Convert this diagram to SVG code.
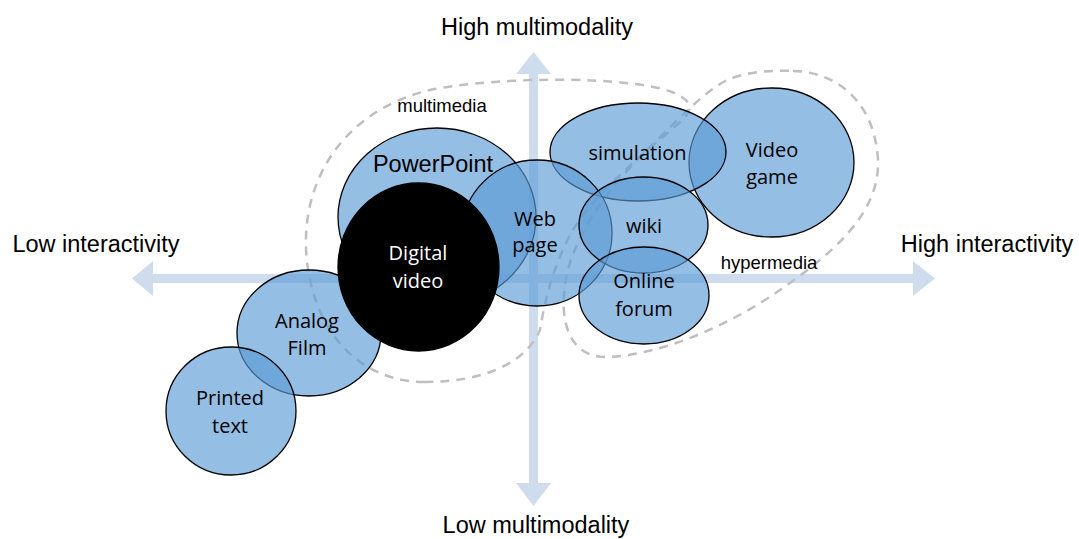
<svg xmlns="http://www.w3.org/2000/svg" width="1079" height="539" viewBox="0 0 1079 539">
<style>
.axis{fill:#cfdcee}
.ax-label{font-family:"Liberation Sans",Arial,sans-serif;font-size:23.5px;fill:#000;text-anchor:middle}
.zone{fill:none;stroke:#bfbfbf;stroke-width:2.5;stroke-dasharray:9 7}
.zone-label{font-family:"Liberation Sans",Arial,sans-serif;font-size:18.5px;fill:#000;text-anchor:middle}
.node{fill:#5b9bd5;fill-opacity:0.65;stroke:#000;stroke-width:1.3}
.dark{fill:#000;stroke:#000;stroke-width:1.3}
.lbl{font-family:"Open Sans","Noto Sans",sans-serif;font-size:20px;fill:#000;text-anchor:middle}
.lbl-w{font-family:"Open Sans","Noto Sans",sans-serif;font-size:20px;fill:#fff;text-anchor:middle}
.lbl-a{font-family:"Liberation Sans",Arial,sans-serif;font-size:23.5px;fill:#000;text-anchor:middle}
</style>
<rect width="1079" height="539" fill="#fff"/>
<g id="connectors">
  <g id="axes">
    <rect class="axis" x="529" y="73" width="9" height="411"/>
    <polygon class="axis" points="533.5,52 551,74 516,74"/>
    <polygon class="axis" points="533.5,506 551,483 516,483"/>
    <rect class="axis" x="152" y="274" width="762" height="9"/>
    <polygon class="axis" points="132,278.5 153,261 153,296"/>
    <polygon class="axis" points="935,278.5 913,261 913,296"/>
  </g>
  <path id="multimedia-zone" class="zone" d="M 425,382 C 362,382 316,336 307,262 C 298,180 345,110 430,90 C 500,76 630,76 672,92 C 697,102 692,113 678,124 C 636,160 592,196 570,235 C 552,270 545,300 540,330 C 525,365 480,382 425,382 Z"/>
  <path id="hypermedia-zone" class="zone" d="M 793,71 C 840,72 875,105 878,160 C 880,215 830,255 780,290 C 730,325 660,356 605,357 C 568,356 560,320 565,285 C 570,245 600,195 650,147 C 680,118 700,95 727,80 C 745,72 770,70 793,71 Z"/>
  <text class="zone-label" x="442" y="112">multimedia</text>
  <text class="zone-label" x="769" y="269">hypermedia</text>
</g>
<text class="ax-label" x="537" y="35">High multimodality</text>
<text class="ax-label" x="536" y="533">Low multimodality</text>
<text class="ax-label" x="96" y="252">Low interactivity</text>
<text class="ax-label" x="987" y="252">High interactivity</text>
<g id="video-game">
  <ellipse class="node" cx="771.5" cy="162.5" rx="82.5" ry="74.5"/>
  <text class="lbl" x="772" y="157">Video</text>
  <text class="lbl" x="772" y="184">game</text>
</g>
<g id="simulation">
  <ellipse class="node" cx="638" cy="152" rx="88" ry="49"/>
  <text class="lbl" x="637.5" y="160">simulation</text>
</g>
<g id="powerpoint">
  <ellipse class="node" cx="437" cy="217" rx="99" ry="89"/>
  <text class="lbl-a" x="433" y="172">PowerPoint</text>
</g>
<g id="web-page">
  <ellipse class="node" cx="537" cy="233" rx="75" ry="73"/>
  <text class="lbl" x="535" y="226">Web</text>
  <text class="lbl" x="535" y="252">page</text>
</g>
<g id="wiki">
  <ellipse class="node" cx="643.5" cy="225" rx="64.5" ry="48"/>
  <text class="lbl" x="644" y="233">wiki</text>
</g>
<g id="online-forum">
  <ellipse class="node" cx="644" cy="295.5" rx="65" ry="48.5"/>
  <text class="lbl" x="644" y="288">Online</text>
  <text class="lbl" x="644" y="316">forum</text>
</g>
<g id="analog-film">
  <ellipse class="node" cx="309" cy="333" rx="72" ry="63"/>
  <text class="lbl" x="307" y="328">Analog</text>
  <text class="lbl" x="307" y="355">Film</text>
</g>
<g id="printed-text">
  <ellipse class="node" cx="231" cy="411" rx="65" ry="64"/>
  <text class="lbl" x="230" y="405">Printed</text>
  <text class="lbl" x="230" y="433">text</text>
</g>
<g id="digital-video">
  <ellipse class="dark" cx="418.5" cy="267" rx="80.5" ry="84"/>
  <text class="lbl-w" x="418" y="260">Digital</text>
  <text class="lbl-w" x="418" y="288">video</text>
</g>
</svg>
